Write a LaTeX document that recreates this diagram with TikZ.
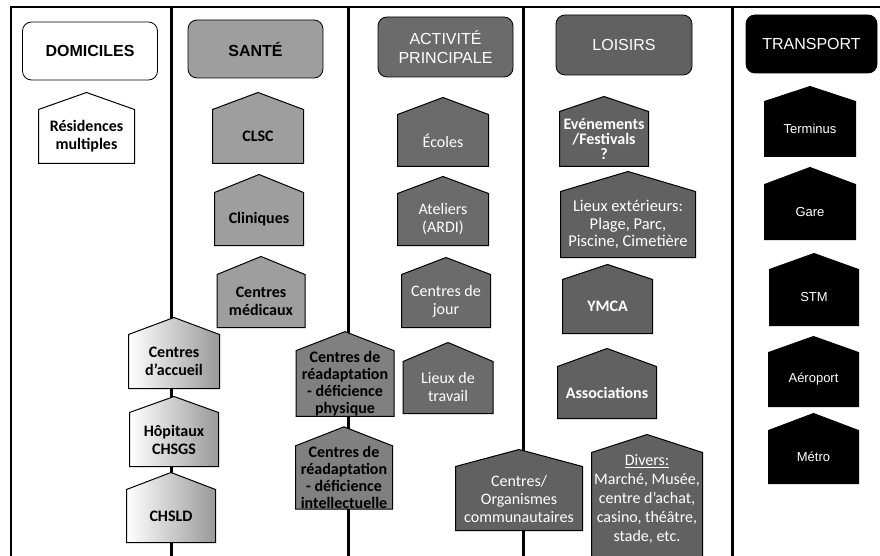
\documentclass[tikz,border=0pt]{standalone}
\usepackage{fontspec}
\setmainfont{Carlito}
\newfontfamily\arialfont{Liberation Sans}
\definecolor{santegray}{gray}{0.62}
\definecolor{readaptgray}{gray}{0.50}
\definecolor{activgray}{gray}{0.42}
\definecolor{loisgray}{gray}{0.38}
% forme maison : rectangle surmonte d'un toit
\makeatletter
\pgfkeys{/pgf/house roof/.initial=17pt}
\pgfdeclareshape{house}{
  \inheritsavedanchors[from=rectangle]
  \inheritanchorborder[from=rectangle]
  \inheritanchor[from=rectangle]{center}
  \inheritanchor[from=rectangle]{north}
  \inheritanchor[from=rectangle]{south}
  \inheritanchor[from=rectangle]{east}
  \inheritanchor[from=rectangle]{west}
  \inheritanchor[from=rectangle]{north east}
  \inheritanchor[from=rectangle]{north west}
  \inheritanchor[from=rectangle]{south east}
  \inheritanchor[from=rectangle]{south west}
  \inheritanchor[from=rectangle]{text}
  \inheritanchor[from=rectangle]{base}
  \backgroundpath{%
    \pgfmathsetlength\pgf@yc{\pgfkeysvalueof{/pgf/house roof}}%
    \southwest \pgf@xa=\pgf@x \pgf@ya=\pgf@y
    \northeast \pgf@xb=\pgf@x \pgf@yb=\pgf@y
    \pgf@xc=.5\pgf@xa \advance\pgf@xc by .5\pgf@xb
    \advance\pgf@yc by \pgf@yb
    \pgfpathmoveto{\pgfqpoint{\pgf@xa}{\pgf@ya}}%
    \pgfpathlineto{\pgfqpoint{\pgf@xa}{\pgf@yb}}%
    \pgfpathlineto{\pgfqpoint{\pgf@xc}{\pgf@yc}}%
    \pgfpathlineto{\pgfqpoint{\pgf@xb}{\pgf@yb}}%
    \pgfpathlineto{\pgfqpoint{\pgf@xb}{\pgf@ya}}%
    \pgfpathclose
  }
}
\makeatother
\tikzset{roof/.code={\pgfkeyssetvalue{/pgf/house roof}{#1}}}
\begin{document}
\begin{tikzpicture}[x=1pt,y=-1pt,
 head/.style={rectangle,draw,thick,rounded corners=9pt,minimum width=135pt,
              minimum height=58pt,align=center,font=\arialfont\fontsize{16}{19}\selectfont},
 house/.style={shape=house,draw,line width=1pt,inner sep=0pt,minimum width=90pt,
               minimum height=53pt,align=center,font=\fontsize{16}{18}\selectfont\bfseries},
 lighthouse/.style={house,text=white,font=\fontsize{16}{18}\selectfont},
 transhouse/.style={house,fill=black,text=white,font=\arialfont\fontsize{13}{16}\selectfont},
 hosp/.style={house,left color=white,middle color=white,right color=gray!80},
 divider/.style={line width=3pt},
 frame/.style={line width=1.5pt}]
\useasboundingbox (0,0) rectangle (880,556);
\clip (0,0) rectangle (880,556);
% cadre et colonnes
\coordinate (tl) at (11,7); \coordinate (tr) at (880,7); \coordinate (bl) at (11,556);
\draw[frame] (bl) -- (tl) -- (tr);
\coordinate (d1t) at (171,7); \coordinate (d1b) at (171,556);
\coordinate (d2t) at (348,7); \coordinate (d2b) at (348,556);
\coordinate (d3t) at (523,7); \coordinate (d3b) at (523,556);
\coordinate (d4t) at (732,7); \coordinate (d4b) at (732,556);
\draw[divider] (d1t) -- (d1b); \draw[divider] (d2t) -- (d2b);
\draw[divider] (d3t) -- (d3b); \draw[divider] (d4t) -- (d4b);
% en-tetes
\node[head,fill=white] (domiciles) at (90,51) {\bfseries DOMICILES};
\node[head,fill=santegray] (sante) at (255.5,49) {\bfseries SANTÉ};
\node[head,fill=activgray,text=white,minimum height=60pt] (activite) at (445.5,47) {ACTIVITÉ\\PRINCIPALE};
\node[head,fill=loisgray,text=white,minimum height=60pt,minimum width=136pt] (loisirs) at (624,45) {LOISIRS};
\node[head,fill=black,text=white,minimum width=131pt] (transport) at (811.5,44) {TRANSPORT};
% domiciles
\node[house,fill=white,minimum width=95pt] (residences) at (86.5,136.5) {Résidences\\multiples};
\node[hosp] (accueil) at (174,361.5) {Centres\\d'accueil};
\node[hosp,minimum width=88pt,roof=16pt] (hopitaux) at (174,439.5) {Hôpitaux\\CHSGS};
\node[hosp,minimum width=88pt,minimum height=52pt] (chsld) at (171,516) {CHSLD};
% sante
\node[house,fill=santegray] (clsc) at (258,136.5) {CLSC};
\node[house,fill=santegray,minimum width=88pt,minimum height=52pt,roof=18pt] (cliniques) at (259,219) {Cliniques};
\node[house,fill=santegray,minimum width=87pt,minimum height=52pt,roof=18pt] (medicaux) at (261,301) {Centres\\médicaux};
\node[house,fill=readaptgray,minimum width=97pt,minimum height=63pt,roof=19pt,
      font=\fontsize{16}{17}\selectfont\bfseries] (physique) at (345,383.5) {Centres de\\réadaptation\\- déficience\\physique};
\node[house,fill=readaptgray,minimum width=96pt,minimum height=61pt,roof=19pt,
      font=\fontsize{16}{17}\selectfont\bfseries] (intellect) at (344,477.5) {Centres de\\réadaptation\\- déficience\\intellectuelle};
% activite principale
\node[lighthouse,fill=activgray,minimum height=51pt] (ecoles) at (443,140.5) {Écoles};
\node[lighthouse,fill=activgray,minimum height=51pt] (ateliers) at (443,219.5) {Ateliers\\(ARDI)};
\node[lighthouse,fill=activgray,minimum width=88pt,minimum height=52pt] (jour) at (446,301) {Centres de\\jour};
\node[lighthouse,fill=activgray,minimum width=89pt,minimum height=51pt,roof=19pt] (travail) at (448,387.5) {Lieux de\\travail};
% loisirs
\node[house,fill=loisgray,text=white,minimum width=88pt,minimum height=54pt,roof=15pt,
      font=\fontsize{16}{15}\selectfont\bfseries] (evenements) at (604,139) {Evénements\\/Festivals\\?};
\node[lighthouse,fill=loisgray,minimum width=134pt,minimum height=65pt,roof=20pt,
      font=\fontsize{16.5}{17.5}\selectfont] (exterieurs) at (628,224.5) {Lieux extérieurs:\\Plage, Parc,\\Piscine, Cimetière};
\node[house,fill=loisgray,text=white,minimum width=89pt,roof=15pt] (ymca) at (607.5,306.5) {YMCA};
\node[house,fill=loisgray,text=white,minimum width=98pt,minimum height=51pt,roof=18pt] (associations) at (607,392.5) {Associations};
\node[lighthouse,fill=loisgray,minimum width=126pt,minimum height=63pt] (communautaires) at (519,498.5) {Centres/\\Organismes\\communautaires};
\node[lighthouse,fill=loisgray,minimum width=110pt,minimum height=115pt,roof=18pt,
      font=\fontsize{16}{19}\selectfont] (divers) at (647,510.5) {\underline{Divers:}\\Marché, Musée,\\centre d'achat,\\casino, théâtre,\\stade, etc.\\\strut};
% transport
\node[transhouse,minimum height=54pt,roof=15pt] (terminus) at (810,129) {Terminus};
\node[transhouse,minimum height=54pt] (gare) at (810,212) {Gare};
\node[transhouse,minimum width=88pt,minimum height=55pt,roof=16pt] (stm) at (814,297.5) {STM};
\node[transhouse,minimum width=89pt,roof=16pt] (aeroport) at (813.5,379.5) {Aéroport};
\node[transhouse,minimum width=89pt,minimum height=52pt] (metro) at (813.5,457) {Métro};
\end{tikzpicture}
\end{document}
